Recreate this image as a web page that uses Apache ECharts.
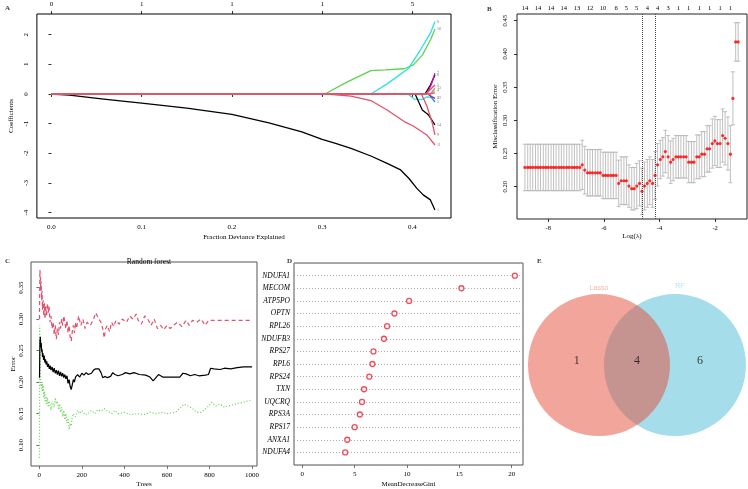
<!DOCTYPE html>
<html>
<head>
<meta charset="utf-8">
<script src="https://cdn.jsdelivr.net/npm/echarts@6/dist/echarts.min.js"></script>
<style>
  html, body { margin: 0; padding: 0; background: #fff; }
  #chart { width: 748px; height: 489px; }
</style>
</head>
<body>
<div id="chart"></div>
<script>
// ---------- A: lasso coefficient paths ----------
var devTicks = [0, 0.1, 0.2, 0.3, 0.4];
var dfTop = ['0', '1', '1', '1', '5'];
var coefTicks = [-4, -3, -2, -1, 0, 1, 2];
var coefLabels = ['1', '10', '6', '11', '12', '14', '9', '8', '7', '3', '2', '4', '13', '5', ''];
var coefPaths = [
  [[0,0],[0.02,-0.04],[0.058,-0.17],[0.1,-0.31],[0.15,-0.48],[0.2,-0.69],[0.241,-0.97],[0.2775,-1.28],[0.3,-1.53],[0.314,-1.66],[0.332,-1.83],[0.354,-2.09],[0.372,-2.34],[0.387,-2.56],[0.396,-2.84],[0.405,-3.18],[0.412,-3.4],[0.42,-3.57],[0.425,-3.91]],
  [[0,0],[0.303,0],[0.328,0.41],[0.354,0.79],[0.37,0.81],[0.391,0.85],[0.401,0.98],[0.411,1.31],[0.42,1.82],[0.425,2.18]],
  [[0,0],[0.354,0],[0.372,0.34],[0.396,0.87],[0.409,1.49],[0.42,2.05],[0.425,2.44]],
  [[0,0],[0.305,0],[0.332,-0.07],[0.354,-0.22],[0.372,-0.54],[0.391,-0.93],[0.401,-1.08],[0.416,-1.38],[0.425,-1.72]],
  [[0,0],[0.395,0],[0.402,-0.17],[0.41,-0.19],[0.416,-0.1],[0.425,-0.12]],
  [[0,0],[0.403,0],[0.411,-0.54],[0.418,-0.71],[0.425,-1.04]],
  [[0,0],[0.41,0],[0.416,-0.4],[0.422,-0.97],[0.425,-1.38]],
  [[0,0],[0.414,0],[0.42,0.3],[0.425,0.64]],
  [[0,0],[0.416,0],[0.421,0.32],[0.425,0.7]],
  [[0,0],[0.418,0],[0.425,-0.27]],
  [[0,0],[0.417,0],[0.425,-0.15]],
  [[0,0],[0.42,0],[0.425,0.12]],
  [[0,0],[0.42,0],[0.425,0.2]],
  [[0,0],[0.415,0],[0.425,0.3]],
  [[0,0],[0.419,0],[0.425,0.04]]
];
var pathColors = ['#000000', '#61D04F', '#28E2E5', '#DF536B', '#28E2E5', '#000000', '#DF536B',
  '#000000', '#CD0BBC', '#2297E6', '#CD0BBC', '#F5C710', '#9E9E9E', '#DF536B', '#DF536B'];

// ---------- B: cross-validated misclassification error ----------
var logLam = [-8.84,-8.74,-8.65,-8.56,-8.46,-8.37,-8.28,-8.18,-8.09,-8.00,
  -7.90,-7.81,-7.72,-7.62,-7.53,-7.44,-7.34,-7.25,-7.15,-7.06,
  -6.97,-6.87,-6.78,-6.69,-6.59,-6.50,-6.41,-6.31,-6.22,-6.13,
  -6.03,-5.94,-5.85,-5.75,-5.66,-5.56,-5.47,-5.38,-5.28,-5.19,
  -5.10,-5.00,-4.91,-4.82,-4.72,-4.63,-4.54,-4.44,-4.35,-4.25,
  -4.16,-4.07,-3.97,-3.88,-3.79,-3.69,-3.60,-3.51,-3.41,-3.32,
  -3.23,-3.13,-3.04,-2.95,-2.85,-2.76,-2.66,-2.57,-2.48,-2.38,
  -2.29,-2.20,-2.10,-2.01,-1.92,-1.82,-1.73,-1.64,-1.54,-1.45,
  -1.36,-1.26,-1.17];
var cvm = [0.229,0.229,0.229,0.229,0.229,0.229,0.229,0.229,0.229,0.229,
  0.229,0.229,0.229,0.229,0.229,0.229,0.229,0.229,0.229,0.229,
  0.229,0.229,0.233,0.225,0.221,0.221,0.221,0.221,0.221,0.221,
  0.217,0.217,0.217,0.217,0.217,0.217,0.205,0.209,0.209,0.209,
  0.201,0.197,0.197,0.201,0.205,0.193,0.201,0.205,0.209,0.205,
  0.217,0.233,0.241,0.245,0.253,0.245,0.237,0.241,0.245,0.245,
  0.245,0.245,0.245,0.237,0.237,0.237,0.245,0.245,0.249,0.249,
  0.257,0.257,0.265,0.269,0.265,0.265,0.277,0.273,0.265,0.249,
  0.333,0.418,0.418];
var cvsd = [0.035,0.035,0.035,0.035,0.035,0.035,0.035,0.035,0.035,0.035,
  0.035,0.035,0.035,0.035,0.035,0.035,0.035,0.035,0.035,0.035,
  0.035,0.035,0.037,0.036,0.035,0.035,0.035,0.035,0.035,0.035,
  0.035,0.035,0.035,0.035,0.035,0.035,0.035,0.036,0.036,0.036,
  0.032,0.032,0.032,0.034,0.034,0.035,0.036,0.036,0.036,0.036,
  0.036,0.032,0.029,0.029,0.032,0.032,0.032,0.032,0.032,0.032,
  0.032,0.032,0.032,0.031,0.031,0.031,0.033,0.033,0.034,0.034,
  0.035,0.035,0.037,0.037,0.036,0.036,0.040,0.040,0.040,0.043,
  0.040,0.029,0.029];
var nzIdx = [0,5,10,15,20,25,30,35,39,43,47,51,55,59,63,67,71,75,79];
var nzLabels = ['14','14','14','14','13','12','10','6','5','5','4','4','3','1','1','1','1','1','1'];
var lambdaMin = -4.63;
var lambda1se = -4.16;
var errTicks = [0.20, 0.25, 0.30, 0.35, 0.40, 0.45];
var lamTicks = [-8, -6, -4, -2];

// ---------- C: random forest error ----------
var treeTicks = [0, 200, 400, 600, 800, 1000];
var rfTicks = [0.10, 0.15, 0.20, 0.25, 0.30, 0.35];
var oobErr = [[1,0.207],[3,0.265],[5,0.272],[7,0.255],[9,0.262],[11,0.248],[13,0.252],[15,0.24],[17,0.246],[20,0.235],[23,0.242],[26,0.231],[29,0.236],[32,0.228],[35,0.233],[39,0.224],[43,0.229],[47,0.221],[51,0.226],[55,0.219],[60,0.224],[65,0.216],[70,0.222],[75,0.214],[80,0.219],[85,0.212],[90,0.218],[95,0.21],[100,0.216],[105,0.209],[110,0.214],[115,0.207],[120,0.212],[125,0.205],[130,0.21],[135,0.198],[140,0.204],[145,0.193],[150,0.188],[155,0.196],[160,0.204],[165,0.2],[170,0.208],[180,0.212],[190,0.208],[200,0.214],[210,0.211],[220,0.215],[230,0.212],[245,0.214],[255,0.219],[265,0.221],[280,0.221],[290,0.215],[298,0.207],[310,0.209],[320,0.207],[335,0.209],[345,0.215],[355,0.212],[370,0.21],[390,0.212],[405,0.215],[425,0.213],[445,0.215],[470,0.212],[500,0.211],[520,0.208],[535,0.202],[545,0.206],[560,0.212],[580,0.208],[620,0.208],[660,0.208],[675,0.214],[690,0.213],[710,0.21],[730,0.212],[750,0.21],[780,0.211],[795,0.212],[805,0.222],[820,0.221],[850,0.22],[870,0.222],[900,0.221],[930,0.223],[960,0.224],[1000,0.224]];
var class1Err = [[1,0.30],[2,0.35],[3,0.378],[5,0.365],[7,0.345],[9,0.36],[11,0.33],[13,0.345],[15,0.315],[18,0.33],[21,0.305],[24,0.325],[27,0.3],[30,0.32],[34,0.305],[38,0.325],[42,0.31],[46,0.32],[50,0.295],[55,0.305],[60,0.285],[65,0.295],[70,0.275],[75,0.29],[80,0.268],[85,0.285],[90,0.275],[95,0.295],[100,0.285],[105,0.3],[110,0.29],[115,0.305],[120,0.295],[125,0.285],[130,0.298],[135,0.278],[140,0.29],[145,0.272],[150,0.265],[155,0.28],[160,0.29],[165,0.278],[170,0.295],[175,0.285],[185,0.305],[195,0.29],[205,0.3],[215,0.285],[225,0.295],[240,0.29],[255,0.3],[265,0.31],[272,0.312],[280,0.3],[290,0.295],[298,0.285],[305,0.27],[312,0.285],[320,0.29],[330,0.28],[340,0.295],[350,0.288],[360,0.298],[375,0.292],[390,0.3],[410,0.295],[425,0.305],[440,0.3],[455,0.308],[465,0.298],[480,0.292],[495,0.305],[510,0.3],[525,0.29],[540,0.3],[555,0.285],[570,0.29],[585,0.283],[600,0.29],[615,0.285],[630,0.29],[650,0.295],[670,0.288],[690,0.298],[705,0.29],[720,0.298],[740,0.295],[760,0.3],[780,0.29],[795,0.298],[1000,0.298]];
var class2Err = [[1,0.08],[2,0.29],[3,0.23],[5,0.205],[7,0.195],[9,0.2],[11,0.19],[13,0.2],[15,0.185],[18,0.195],[21,0.175],[24,0.185],[27,0.17],[30,0.18],[34,0.165],[38,0.175],[42,0.16],[46,0.17],[50,0.165],[55,0.155],[60,0.17],[65,0.165],[70,0.16],[75,0.175],[80,0.165],[85,0.17],[90,0.158],[95,0.165],[100,0.152],[105,0.16],[110,0.145],[115,0.155],[120,0.14],[125,0.15],[130,0.135],[135,0.145],[140,0.125],[145,0.135],[150,0.13],[155,0.145],[160,0.15],[170,0.145],[180,0.155],[190,0.15],[200,0.155],[215,0.148],[230,0.15],[245,0.155],[260,0.15],[275,0.156],[290,0.154],[305,0.158],[320,0.154],[340,0.15],[355,0.155],[370,0.15],[400,0.152],[430,0.148],[460,0.15],[490,0.148],[520,0.152],[550,0.15],[580,0.152],[600,0.15],[640,0.152],[660,0.158],[680,0.165],[700,0.162],[720,0.158],[740,0.152],[760,0.152],[790,0.16],[810,0.168],[830,0.162],[850,0.165],[870,0.16],[900,0.163],[930,0.166],[960,0.168],[1000,0.172]];

// ---------- D: variable importance ----------
var genes = ['NDUFA1','MECOM','ATP5PO','OPTN','RPL26','NDUFB3','RPS27','RPL6','RPS24','TXN','UQCRQ','RPS3A','RPS17','ANXA1','NDUFA4'];
var gini = [20.3, 15.2, 10.2, 8.8, 8.1, 7.8, 6.8, 6.7, 6.4, 5.9, 5.7, 5.5, 5.0, 4.3, 4.1];
var giniTicks = [0, 5, 10, 15, 20];

// ---------- E: venn ----------
var vennSets = ['Lasso', 'RF'];
var vennCounts = [1, 4, 6];

var serif = 'Liberation Serif';
var chart = echarts.init(document.getElementById('chart'));

function valAxis(o) {
  return {
    type: 'value',
    gridIndex: o.grid,
    position: o.position,
    min: o.min,
    max: o.max,
    name: o.name || '',
    nameLocation: 'middle',
    nameGap: o.nameGap || 15,
    nameTextStyle: { fontFamily: serif, fontSize: 7, color: '#000' },
    axisLine: { show: false },
    axisTick: { show: o.tick !== false, length: 3, customValues: o.ticks, lineStyle: { color: o.tickColor || '#000', width: 0.8 } },
    axisLabel: {
      customValues: o.ticks, fontFamily: serif, fontSize: o.fontSize || 7, color: '#000',
      margin: o.margin || 6, rotate: o.rotate || 0, formatter: o.formatter
    },
    splitLine: { show: false }
  };
}

var series = [];
coefPaths.forEach(function (p, i) {
  series.push({
    type: 'line', xAxisIndex: 0, yAxisIndex: 0, data: p, showSymbol: false, silent: true,
    lineStyle: { color: pathColors[i], width: 1.3 },
    endLabel: { show: coefLabels[i] !== '', formatter: coefLabels[i], fontSize: 4, color: '#777', distance: 2, fontFamily: serif }
  });
});

// error bars + mean points
series.push({
  type: 'custom', xAxisIndex: 2, yAxisIndex: 1, silent: true,
  data: logLam.map(function (x, i) { return [x, cvm[i] - cvsd[i], cvm[i] + cvsd[i]]; }),
  renderItem: function (params, api) {
    var top = api.coord([api.value(0), api.value(2)]);
    var bot = api.coord([api.value(0), api.value(1)]);
    var st = { stroke: '#B0B0B0', lineWidth: 0.8 };
    return {
      type: 'group', children: [
        { type: 'line', shape: { x1: top[0], y1: top[1], x2: bot[0], y2: bot[1] }, style: st },
        { type: 'line', shape: { x1: top[0] - 2, y1: top[1], x2: top[0] + 2, y2: top[1] }, style: st },
        { type: 'line', shape: { x1: bot[0] - 2, y1: bot[1], x2: bot[0] + 2, y2: bot[1] }, style: st }
      ]
    };
  }
});
series.push({
  type: 'scatter', xAxisIndex: 2, yAxisIndex: 1, silent: true, symbolSize: 3.2,
  itemStyle: { color: '#FF0000' },
  data: logLam.map(function (x, i) { return [x, cvm[i]]; }),
  markLine: {
    symbol: 'none', silent: true, label: { show: false },
    lineStyle: { type: 'dotted', color: '#444', width: 1 },
    data: [{ xAxis: lambdaMin }, { xAxis: lambda1se }]
  }
});

series.push({ type: 'line', xAxisIndex: 4, yAxisIndex: 2, data: class1Err, showSymbol: false, silent: true,
  lineStyle: { color: '#DF536B', width: 1.2, type: [4, 3] } });
series.push({ type: 'line', xAxisIndex: 4, yAxisIndex: 2, data: class2Err, showSymbol: false, silent: true,
  lineStyle: { color: '#61D04F', width: 1.2, type: [1, 2] } });
series.push({ type: 'line', xAxisIndex: 4, yAxisIndex: 2, data: oobErr, showSymbol: false, silent: true,
  lineStyle: { color: '#000', width: 1.2 } });

series.push({
  type: 'scatter', xAxisIndex: 5, yAxisIndex: 3, silent: true, symbol: 'circle', symbolSize: 5,
  itemStyle: { color: '#ffffff', borderColor: '#EE2030', borderWidth: 1.3 },
  data: genes.map(function (g, i) { return [gini[i], genes.length - i]; })
});

// venn: RF drawn first, Lasso on top
var vennX = [0, 1.07];
series.push({ type: 'scatter', xAxisIndex: 6, yAxisIndex: 4, silent: true, symbolSize: 142,
  itemStyle: { color: '#4DBBD5', opacity: 0.5 }, data: [[vennX[1], 0]] });
series.push({ type: 'scatter', xAxisIndex: 6, yAxisIndex: 4, silent: true, symbolSize: 142,
  itemStyle: { color: '#E64B35', opacity: 0.5 }, data: [[vennX[0], 0]] });
series.push({ type: 'scatter', xAxisIndex: 6, yAxisIndex: 4, silent: true, symbolSize: 1,
  itemStyle: { color: 'rgba(0,0,0,0)' },
  label: { show: true, position: 'inside', formatter: '{b}', fontFamily: serif, fontSize: 12, color: '#111' },
  data: vennCounts.map(function (c, i) { return { name: String(c), value: [[-0.314, 0.535, 1.423][i], 0.06] }; })
});
var setColors = ['#F2A59A', '#A6DCEA'];
series.push({ type: 'scatter', xAxisIndex: 6, yAxisIndex: 4, silent: true, symbolSize: 1,
  itemStyle: { color: 'rgba(0,0,0,0)' },
  label: { show: true, position: 'inside', formatter: '{b}', fontFamily: 'Liberation Sans', fontSize: 7 },
  data: vennSets.map(function (s, i) {
    return { name: s, value: [[0, 1.14][i], [1.085, 1.11][i]], label: { color: setColors[i] } };
  })
});

var fmt1 = function (v) { return v.toFixed(1); };
var fmt2 = function (v) { return v.toFixed(2); };

var option = {
  animation: false,
  backgroundColor: '#fff',
  textStyle: { fontFamily: serif },
  title: [
    { text: 'A', left: 0, top: 0, textStyle: { fontSize: 7, fontWeight: 'bold', fontFamily: serif } },
    { text: 'B', left: 482, top: 1, textStyle: { fontSize: 7, fontWeight: 'bold', fontFamily: serif } },
    { text: 'C', left: 0, top: 253, textStyle: { fontSize: 7, fontWeight: 'bold', fontFamily: serif } },
    { text: 'D', left: 282, top: 253, textStyle: { fontSize: 7, fontWeight: 'bold', fontFamily: serif } },
    { text: 'E', left: 532, top: 253, textStyle: { fontSize: 7, fontWeight: 'bold', fontFamily: serif } },
    { text: 'Random forest', left: 144, top: 253, textAlign: 'center',
      textStyle: { fontSize: 7.5, fontWeight: 'normal', fontFamily: serif, color: '#000' } }
  ],
  grid: [
    { left: 32, top: 14, width: 419, height: 204, show: true, borderColor: '#000', borderWidth: 1, backgroundColor: 'transparent' },
    { left: 517, top: 14, width: 230, height: 205, show: true, borderColor: '#222', borderWidth: 1, backgroundColor: 'transparent' },
    { left: 31, top: 262, width: 226, height: 205, show: true, borderColor: '#555', borderWidth: 1, backgroundColor: 'transparent' },
    { left: 294, top: 263, width: 229, height: 204, show: true, borderColor: '#555', borderWidth: 1, backgroundColor: 'transparent' },
    { left: 500, top: 240, width: 248, height: 249, show: false }
  ],
  xAxis: [
    valAxis({ grid: 0, position: 'bottom', min: -0.0161, max: 0.4428, ticks: devTicks, formatter: fmt1,
      name: 'Fraction Deviance Explained', nameGap: 16 }),
    valAxis({ grid: 0, position: 'top', min: -0.0161, max: 0.4428, ticks: devTicks,
      formatter: function (v) { return dfTop[devTicks.indexOf(v)]; } }),
    valAxis({ grid: 1, position: 'bottom', min: -9.126, max: -0.853, ticks: lamTicks, fontSize: 6.5,
      formatter: function (v) { return String(v); }, name: 'Log(\u03bb)', nameGap: 12 }),
    valAxis({ grid: 1, position: 'top', min: -9.126, max: -0.853, tick: false, fontSize: 6.5, margin: 2,
      ticks: nzIdx.map(function (k) { return logLam[k]; }),
      formatter: function (v) {
        for (var i = 0; i < nzIdx.length; i++) { if (Math.abs(logLam[nzIdx[i]] - v) < 1e-6) return nzLabels[i]; }
        return '';
      } }),
    valAxis({ grid: 2, position: 'bottom', min: -39, max: 1023, ticks: treeTicks, tickColor: '#555',
      formatter: function (v) { return String(v); }, name: 'Trees', nameGap: 15 }),
    valAxis({ grid: 3, position: 'bottom', min: -0.79, max: 21.08, ticks: giniTicks, tickColor: '#555',
      formatter: function (v) { return String(v); }, name: 'MeanDecreaseGini', nameGap: 16 }),
    { type: 'value', gridIndex: 4, show: false, min: -1.394, max: 2.099 }
  ],
  yAxis: [
    valAxis({ grid: 0, position: 'left', min: -4.18, max: 2.696, ticks: coefTicks, rotate: 90, margin: 7,
      formatter: function (v) { return String(v); }, name: 'Coefficients', nameGap: 16 }),
    valAxis({ grid: 1, position: 'left', min: 0.1514, max: 0.4601, ticks: errTicks, rotate: 90, margin: 8,
      fontSize: 6.5, formatter: fmt2, name: 'Misclassification Error', nameGap: 18 }),
    valAxis({ grid: 2, position: 'left', min: 0.0668, max: 0.3906, ticks: rfTicks, rotate: 90, margin: 6,
      tickColor: '#555', formatter: fmt2, name: 'Error', nameGap: 14 }),
    {
      type: 'value', gridIndex: 3, min: 0, max: 16, interval: 1,
      axisLine: { show: false }, axisTick: { show: false },
      axisLabel: {
        fontFamily: serif, fontStyle: 'italic', fontSize: 7.5, color: '#000', margin: 4,
        formatter: function (v) { var i = genes.length - v; return (i >= 0 && i < genes.length) ? genes[i] : ''; }
      },
      splitLine: { show: true, lineStyle: { type: [1, 2], color: '#999', width: 0.8 } }
    },
    { type: 'value', gridIndex: 4, show: false, min: -1.746, max: 1.761 }
  ],
  series: series
};

chart.setOption(option);
</script>
</body>
</html>
